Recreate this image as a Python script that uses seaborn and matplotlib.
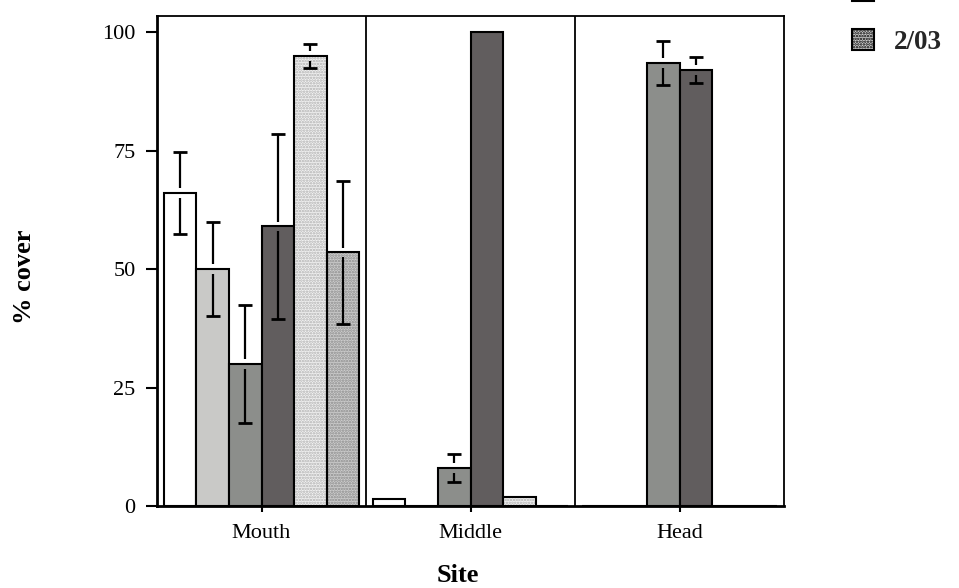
import numpy as np
import pandas as pd
import matplotlib
matplotlib.use("Agg")
import matplotlib.pyplot as plt
from matplotlib.patches import Patch, Rectangle
import seaborn as sns

# ---- data ----
sites = ["Mouth", "Middle", "Head"]
dates = ["2/02", "5/02", "8/02", "11/02", "12/02", "2/03"]
cover = {
    "2/02":  [66.0, 1.5, 0.0],
    "5/02":  [50.0, 0.0, 0.0],
    "8/02":  [30.0, 8.0, 93.5],
    "11/02": [59.0, 100.0, 92.0],
    "12/02": [95.0, 2.0, 0.0],
    "2/03":  [53.5, 0.0, 0.0],
}
errors = {
    "2/02":  [8.7, np.nan, np.nan],
    "5/02":  [10.0, np.nan, np.nan],
    "8/02":  [12.5, 3.0, 4.7],
    "11/02": [19.5, np.nan, 2.8],
    "12/02": [2.5, np.nan, np.nan],
    "2/03":  [15.0, np.nan, np.nan],
}
y_ticks = [0, 25, 50, 75, 100]

face = ["#ffffff", "#c9c9c7", "#8c8e8b", "#615d5e", "#f2f2f2", "#cdcdcd"]
hatch_col = [None, None, None, None, "#b0b0b0", "#8a8a8a"]

rows = []
for d in dates:
    for s, v in zip(sites, cover[d]):
        rows.append({"Site": s, "date": d, "cover": v})
df = pd.DataFrame(rows)

sns.set_theme(style="white")
plt.rcParams["font.family"] = ["Liberation Serif", "DejaVu Serif"]
plt.rcParams["hatch.linewidth"] = 1.2

fig = plt.figure(figsize=(9.59, 5.88), dpi=100)
ax = fig.add_axes([157 / 959, 82 / 588, 627 / 959, 490 / 588])

sns.barplot(data=df, x="Site", y="cover", hue="date", order=sites,
            hue_order=dates, palette=face, saturation=1, width=0.935,
            errorbar=None, edgecolor="black", linewidth=1.5, legend=False,
            ax=ax)

gap = 1.0
for i, d in enumerate(dates):
    cont = ax.containers[i]
    for j, bar in enumerate(cont):
        if hatch_col[i] is not None:
            bar.set_hatch("......")
            bar.set_edgecolor(hatch_col[i])
            bar.set_linewidth(0)
            ax.add_patch(Rectangle((bar.get_x(), bar.get_y()), bar.get_width(),
                                   bar.get_height(), fill=False,
                                   edgecolor="black", linewidth=1.5, zorder=bar.get_zorder() + 0.1))
        e = errors[d][j]
        if not np.isnan(e):
            xc = bar.get_x() + bar.get_width() / 2
            v = cover[d][j]
            ax.errorbar([xc], [v], yerr=[[e], [e]], fmt="none", ecolor="black",
                        elinewidth=0, capsize=5, capthick=2, zorder=5)
            ax.vlines([xc, xc], [v + gap, v - e], [v + e, v - gap],
                      colors="black", linewidth=1.6, zorder=5)

for b in [0.5, 1.5]:
    ax.axvline(b, color="black", linewidth=1.3, zorder=6)

ax.set_xlim(-0.5, 2.5)
ax.set_ylim(0, 103.4)
ax.set_yticks(y_ticks)
ax.set_yticklabels([str(t) for t in y_ticks])
for sp in ax.spines.values():
    sp.set_visible(True)
    sp.set_color("black")
    sp.set_linewidth(1.3)
ax.spines["left"].set_linewidth(2)
ax.spines["bottom"].set_linewidth(2)
ax.tick_params(axis="both", direction="out", width=1.5, color="black",
               labelsize=16, labelcolor="black", left=True, bottom=True)
ax.tick_params(axis="y", length=8, pad=7.5)
ax.tick_params(axis="x", length=4, pad=9)
ax.set_xlabel("Site", fontsize=19, fontweight="bold", color="black")
ax.set_ylabel("% cover", fontsize=19, fontweight="bold", color="black")
ax.xaxis.set_label_coords(0.48, -0.119)
ax.yaxis.set_label_coords(-0.193, 0.467)

handles = []
for i, d in enumerate(dates):
    if hatch_col[i] is None:
        handles.append(Patch(facecolor=face[i], edgecolor="black", linewidth=1.5, label=d))
    else:
        handles.append(Patch(facecolor=face[i], edgecolor="black", linewidth=1.5,
                             hatch="......", label=d))
leg = fig.legend(handles=handles, loc="lower left", frameon=False,
                 bbox_to_anchor=(852 / 959, 1 - 55 / 588),
                 prop={"family": "Liberation Serif", "weight": "bold", "size": 19.5},
                 handlelength=0.8, handleheight=0.8, labelspacing=0.85,
                 handletextpad=0.75, borderpad=0, borderaxespad=0)

fig.savefig("out.png", dpi=100)
